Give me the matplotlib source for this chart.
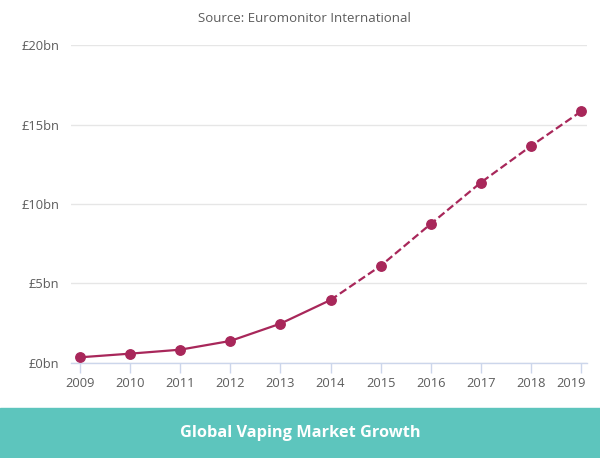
import matplotlib
matplotlib.use("Agg")
import matplotlib.pyplot as plt
from matplotlib.patches import Rectangle
import matplotlib.transforms as mtrans

years = [2009, 2010, 2011, 2012, 2013, 2014, 2015, 2016, 2017, 2018, 2019]
values = [0.34, 0.57, 0.82, 1.37, 2.46, 3.95, 6.1, 8.74, 11.35, 13.65, 15.83]
actual_until = 2014
yticks = [0, 5, 10, 15, 20]
ytick_labels = ["£0bn", "£5bn", "£10bn", "£15bn", "£20bn"]
source_text = "Source: Euromonitor International"
title_text = "Global Vaping Market Growth"

line_color = "#A8275A"
banner_color = "#5DC5BD"
text_color = "#5c5c5c"

plt.rcParams['font.family'] = ['Open Sans', 'DejaVu Sans']

fig = plt.figure(figsize=(6.0, 4.58), dpi=100)
ax = fig.add_axes([71/600, 1 - 362.7/458, (587-71)/600, (362.7-45.3)/458])

idx = years.index(actual_until)
ax.plot(years[:idx+1], values[:idx+1], color=line_color, lw=1.6, zorder=3)
ax.plot(years[idx:], values[idx:], color=line_color, lw=1.6, ls=(0, (3.5, 1.6)), zorder=3)
ax.plot(years, values, ls='none', marker='o', ms=6.8, color=line_color, zorder=4)

ax.set_xlim(2009 - 9/50.1, 2019 + 6/50.1)
ax.set_ylim(0, 20)
ax.set_yticks(yticks)
ax.set_yticklabels(ytick_labels)
ax.set_xticks(years)
ax.set_xticklabels([str(y) for y in years])
ax.grid(axis='y', color='#e6e6e6', lw=1)
ax.set_axisbelow(True)
for s in ['top', 'right', 'left']:
    ax.spines[s].set_visible(False)
ax.spines['bottom'].set_color('#ccd6eb')
ax.spines['bottom'].set_linewidth(1)
ax.tick_params(axis='x', length=7, width=1, color='#ccd6eb', labelcolor=text_color, labelsize=9.3, pad=3)
ax.tick_params(axis='y', length=0, labelcolor=text_color, labelsize=9.3, pad=8.5)
labels = ax.get_xticklabels()
offset = mtrans.ScaledTranslation(-10/100, 0, fig.dpi_scale_trans)
labels[-1].set_transform(labels[-1].get_transform() + offset)

fig.text(304/600, 1 - 19/458, source_text, ha='center', va='center', color=text_color, fontsize=9.5)

fig.patches.append(Rectangle((0, 0), 1, 50/458, transform=fig.transFigure, color=banner_color, zorder=0))
fig.text(0.5, 1 - 433/458, title_text, ha='center', va='center', color='white', fontsize=11.8, fontweight='bold')

fig.savefig("out.png", dpi=100)
